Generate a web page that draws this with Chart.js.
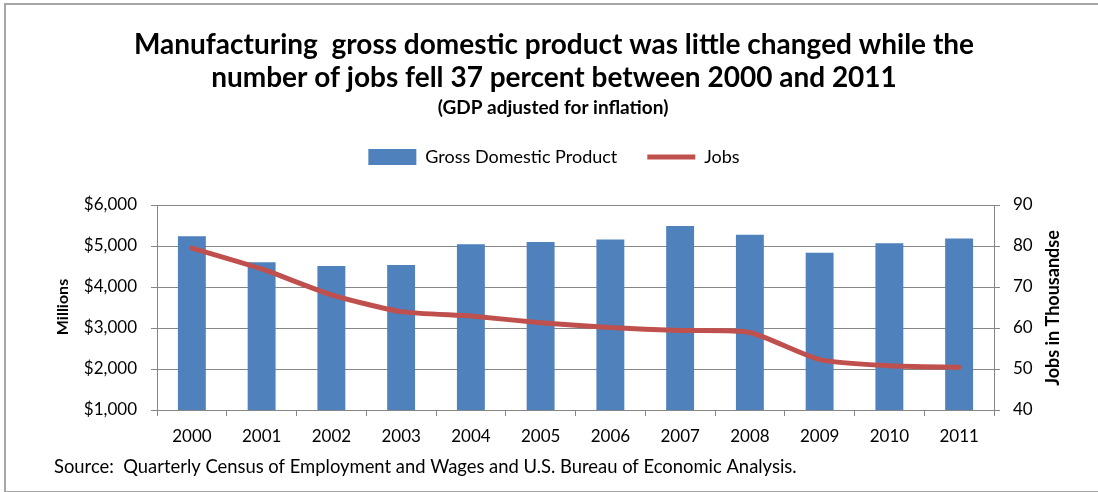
<!DOCTYPE html>
<html>
<head>
<meta charset="utf-8">
<script src="https://cdn.jsdelivr.net/npm/chart.js@4"></script>
<style>
    body { margin: 0; background: #fff; }
    #wrap { position: relative; width: 1098px; height: 492px; overflow: hidden; }
    #frame { position: absolute; left: 4px; top: 3px; width: 1200px; height: 486px; border: 2px solid #a6a6a6; }
    #mfgChart { position: absolute; left: 0; top: 0; }
</style>
</head>
<body>
<div id="wrap">
    <div id="frame"></div>
    <canvas id="mfgChart" width="1098" height="492"></canvas>
</div>
<script>
// data
const years = ['2000', '2001', '2002', '2003', '2004', '2005', '2006', '2007', '2008', '2009', '2010', '2011'];
const gdpMillions = [5240, 4605, 4510, 4535, 5045, 5095, 5160, 5485, 5275, 4835, 5070, 5180];
const jobsThousands = [79.5, 74.4, 68.1, 64.0, 62.9, 61.3, 60.1, 59.4, 58.9, 52.3, 50.8, 50.4];
const gdpTicks = [1000, 2000, 3000, 4000, 5000, 6000];
const jobTicks = [40, 50, 60, 70, 80, 90];

const FONT = 'Lato';
const GRID = '#868686';

// subtitle, axis titles and source line
const extraText = {
    id: 'extraText',
    afterDraw(chart) {
        const c = chart.ctx;
        c.save();
        c.fillStyle = '#000';
        c.textAlign = 'center';
        c.textBaseline = 'middle';
        c.font = 'bold 19px ' + FONT;
        c.fillText('(GDP adjusted for inflation)', 553, 108);

        c.font = 'bold 16px ' + FONT;
        c.save();
        c.translate(63, 307);
        c.rotate(-Math.PI / 2);
        c.fillText('Millions', 0, 0);
        c.restore();
        c.font = 'bold 18px ' + FONT;
        c.save();
        c.translate(1053, 308);
        c.rotate(-Math.PI / 2);
        c.fillText('Jobs in Thousandse', 0, 0);
        c.restore();

        c.textAlign = 'left';
        c.font = '18.4px ' + FONT;
        c.fillText('Source:  Quarterly Census of Employment and Wages and U.S. Bureau of Economic Analysis.', 54, 467);
        c.restore();
    }
};

new Chart(document.getElementById('mfgChart'), {
    type: 'bar',
    data: {
        labels: years,
        datasets: [{
            label: 'Gross Domestic Product',
            data: gdpMillions,
            yAxisID: 'y',
            backgroundColor: '#4F81BD',
            borderWidth: 0,
            barPercentage: 0.4,
            categoryPercentage: 1,
            pointStyle: 'rect',
            order: 1
        }, {
            type: 'line',
            label: 'Jobs',
            data: jobsThousands,
            yAxisID: 'y1',
            borderColor: '#C0504D',
            backgroundColor: '#C0504D',
            borderWidth: 5,
            borderCapStyle: 'round',
            borderJoinStyle: 'round',
            tension: 0.2,
            pointRadius: 0,
            pointStyle: 'line',
            order: 0
        }]
    },
    options: {
        responsive: false,
        animation: false,
        layout: { padding: { left: 10, right: 0, top: 0, bottom: 42 } },
        plugins: {
            title: {
                display: true,
                text: ['Manufacturing  gross domestic product was little changed while the',
                       'number of jobs fell 37 percent between 2000 and 2011'],
                color: '#000',
                font: { family: FONT, size: 28, weight: 'bold', lineHeight: 33 / 28 },
                padding: { top: 28.5, bottom: 23.5 }
            },
            legend: {
                display: true,
                labels: {
                    usePointStyle: true,
                    pointStyleWidth: 48,
                    boxHeight: 16,
                    padding: 30,
                    color: '#000',
                    font: { family: FONT, size: 18 },
                    sort: (a, b) => a.datasetIndex - b.datasetIndex
                }
            },
            tooltip: { enabled: false }
        },
        scales: {
            x: {
                grid: { display: true, drawOnChartArea: false, offset: true, color: GRID, tickLength: 6 },
                border: { color: GRID, width: 1 },
                ticks: { color: '#000', font: { family: FONT, size: 17 }, padding: 10, maxRotation: 0 },
                afterFit(s) { s.height = 40; }
            },
            // empty band that keeps the plot top below the legend
            gap: {
                type: 'category',
                position: 'top',
                grid: { display: false },
                border: { display: false },
                ticks: { display: false },
                afterFit(s) { s.height = 29; }
            },
            y: {
                position: 'left',
                min: 1000,
                max: 6000,
                afterBuildTicks(s) { s.ticks = gdpTicks.map(v => ({ value: v })); },
                grid: { color: GRID, tickLength: 6 },
                border: { color: GRID, width: 1 },
                ticks: {
                    color: '#000',
                    font: { family: FONT, size: 17 },
                    padding: 14,
                    callback: v => '$' + v.toLocaleString('en-US')
                },
                afterFit(s) { s.width = 147; }
            },
            y1: {
                position: 'right',
                min: 40,
                max: 90,
                afterBuildTicks(s) { s.ticks = jobTicks.map(v => ({ value: v })); },
                grid: { drawOnChartArea: false, color: GRID, tickLength: 6 },
                border: { color: GRID, width: 1 },
                ticks: { color: '#000', font: { family: FONT, size: 17 }, padding: 13 },
                afterFit(s) { s.width = 104; }
            }
        }
    },
    plugins: [extraText]
});
</script>
</body>
</html>
